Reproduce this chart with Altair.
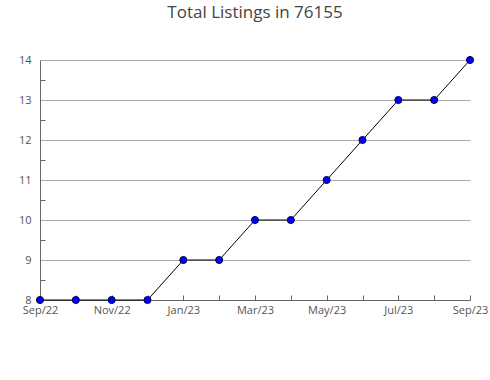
import altair as alt
import pandas as pd

months = ["Sep/22", "Oct/22", "Nov/22", "Dec/22", "Jan/23", "Feb/23", "Mar/23",
          "Apr/23", "May/23", "Jun/23", "Jul/23", "Aug/23", "Sep/23"]
listings = [8, 8, 8, 8, 9, 9, 10, 10, 11, 12, 13, 13, 14]
y_ticks = [8, 9, 10, 11, 12, 13, 14]
y_minor = [8.5, 9.5, 10.5, 11.5, 12.5, 13.5]

df = pd.DataFrame({"month": months, "listings": listings})

FONT = "Open Sans"
x_sort = months
x_scale = alt.Scale(type="point", padding=0)
y_scale = alt.Scale(domain=[8, 14], nice=False, zero=False)

hide_odd = "test(/^(Oct|Dec|Feb|Apr|Jun|Aug)/, datum.value) ? '' : datum.value"

base = alt.Chart(df)

line = base.mark_line(color="#000000", strokeWidth=1).encode(
    x=alt.X("month:O", sort=x_sort, scale=x_scale,
            axis=alt.Axis(title=None, orient="bottom", labelAngle=0, ticks=False,
                          labelExpr=hide_odd,
                          labelFont=FONT, labelFontSize=11, labelColor="#555555",
                          domainColor="#666666", labelPadding=4, grid=False)),
    y=alt.Y("listings:Q", scale=y_scale,
            axis=alt.Axis(title=None, orient="left", values=y_ticks, ticks=False,
                          grid=True, gridColor="#aaaaaa", domainColor="#666666",
                          labelFont=FONT, labelFontSize=11, labelColor="#555555",
                          labelPadding=9)),
)

minor = base.mark_point(opacity=0).encode(
    x=alt.X("month:O", sort=x_sort, scale=x_scale,
            axis=alt.Axis(title=None, orient="bottom", offset=-5, labels=False,
                          domain=False, grid=False, ticks=True, tickSize=5,
                          tickColor="#666666")),
    y=alt.Y("listings:Q", scale=y_scale,
            axis=alt.Axis(title=None, orient="left", offset=-5, labels=False,
                          domain=False, grid=False, ticks=True, tickSize=5,
                          tickColor="#666666", values=y_minor)),
)

points = base.mark_point(shape="circle", filled=True, size=50, fill="#0000ff",
                         stroke="#000044", strokeWidth=1, opacity=1).encode(
    x=alt.X("month:O", sort=x_sort, scale=x_scale, axis=None),
    y=alt.Y("listings:Q", scale=y_scale, axis=None),
)

chart = alt.layer(line, minor, points).resolve_axis(
    x="independent", y="independent"
).properties(
    width=430,
    height=240,
    title=alt.TitleParams("Total Listings in 76155", font=FONT, fontSize=17,
                          fontWeight="normal", color="#444444", anchor="middle",
                          offset=32),
    autosize=alt.AutoSizeParams(type="none"),
    padding={"left": 40, "top": 60, "right": 20, "bottom": 80},
).configure_view(stroke=None)

chart.save("out.html", embed_options={"renderer": "svg", "actions": False})
